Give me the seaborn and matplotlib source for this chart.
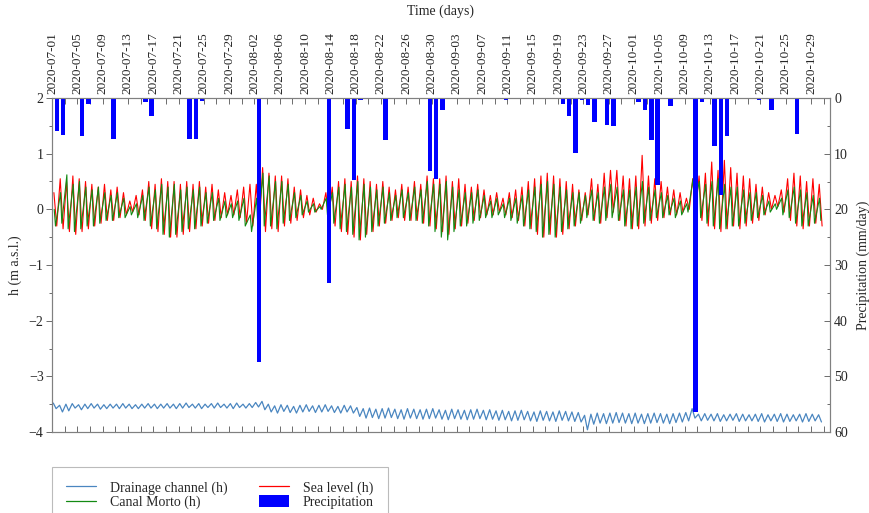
import numpy as np
import pandas as pd
import seaborn as sns
import matplotlib.pyplot as plt
from matplotlib.patches import Patch
from matplotlib.lines import Line2D

start = pd.Timestamp('2020-07-01')
end = pd.Timestamp('2020-11-01')
n_days = 122

# daily high / low of each level series (m a.s.l.)
sea_hi = [0.3, 0.55, 0.5, 0.6, 0.55, 0.5,
          0.45, 0.4, 0.45, 0.35, 0.4, 0.3,
          0.15, 0.25, 0.35,
          0.5, 0.45, 0.55, 0.5, 0.5, 0.45, 0.5,
          0.45, 0.5, 0.4, 0.45, 0.35,
          0.3, 0.25, 0.35, 0.4, 0.45,
          0.45, 0.75, 0.65, 0.6, 0.6, 0.55,
          0.4, 0.35, 0.25, 0.2, 0.1, 0.3,
          0.4, 0.5, 0.55, 0.5, 0.6, 0.55, 0.5,
          0.45, 0.5, 0.4, 0.35, 0.45, 0.4,
          0.5, 0.45, 0.6, 0.55,
          0.55, 0.6, 0.5, 0.55,
          0.45, 0.4, 0.45, 0.35,
          0.25, 0.3, 0.2, 0.3,
          0.35, 0.4, 0.5, 0.55, 0.6, 0.65,
          0.6, 0.55, 0.5, 0.45,
          0.35, 0.3, 0.55, 0.45,
          0.65, 0.7, 0.7, 0.6, 0.55,
          0.6, 0.97, 0.6, 0.55,
          0.5, 0.4, 0.35, 0.3, 0.2,
          0.55, 0.6, 0.65, 0.85, 0.7, 0.88, 0.75,
          0.65, 0.6, 0.55, 0.45, 0.4,
          0.3, 0.25, 0.35,
          0.55, 0.65, 0.6, 0.5, 0.55, 0.45]
sea_lo = [-0.3, -0.35, -0.4, -0.45, -0.4, -0.35,
          -0.3, -0.25, -0.2, -0.2, -0.15, -0.1,
          -0.05, -0.1, -0.2,
          -0.35, -0.4, -0.45, -0.5, -0.5, -0.45, -0.4,
          -0.35, -0.3, -0.25, -0.2, -0.15,
          -0.1, -0.1, -0.15, -0.25, -0.3,
          -0.35, -0.4, -0.35, -0.4, -0.3, -0.25,
          -0.2, -0.15, -0.1, -0.05, 0.0, -0.15,
          -0.3, -0.4, -0.45, -0.5, -0.55, -0.45, -0.4,
          -0.3, -0.25, -0.2, -0.15, -0.2, -0.2,
          -0.2, -0.25, -0.3, -0.35,
          -0.4, -0.45, -0.35, -0.3,
          -0.25, -0.2, -0.15, -0.1,
          -0.1, -0.05, -0.1, -0.15,
          -0.2, -0.3, -0.35, -0.45, -0.5, -0.45,
          -0.5, -0.45, -0.35, -0.3,
          -0.2, -0.1, -0.2, -0.25,
          -0.15, -0.05, -0.2, -0.3, -0.35,
          -0.35, -0.3, -0.25, -0.2,
          -0.15, -0.1, -0.1, -0.05, 0.0,
          -0.05, -0.2, -0.3, -0.35, -0.4, -0.35, -0.3,
          -0.35, -0.3, -0.25, -0.2, -0.1,
          0.0, 0.05, -0.05,
          -0.2, -0.3, -0.35, -0.3, -0.25, -0.3]
canal_hi = [0.0, 0.3, 0.62, 0.45, 0.5, 0.4,
            0.35, 0.4, 0.3, 0.25, 0.3, 0.2,
            0.05, 0.1, 0.25,
            0.4, 0.35, 0.45, 0.4, 0.45, 0.35, 0.4,
            0.35, 0.4, 0.3, 0.3, 0.2,
            0.15, 0.1, 0.15, 0.2, -0.1,
            0.2, 0.65, 0.6, 0.5, 0.5, 0.45,
            0.3, 0.25, 0.15, 0.1, 0.05, 0.2,
            0.3, 0.4, 0.45, 0.4, 0.5, 0.45, 0.4,
            0.35, 0.4, 0.3, 0.25, 0.35, 0.3,
            0.4, 0.35, 0.5, 0.45,
            0.45, 0.5, 0.4, 0.35,
            0.3, 0.3, 0.35, 0.25,
            0.15, 0.2, 0.1, 0.2,
            0.2, 0.25, 0.35, 0.4, 0.45, 0.5,
            0.45, 0.4, 0.35, 0.3,
            0.3, 0.25, 0.35, 0.3,
            0.4, 0.45, 0.4, 0.35, 0.35,
            0.4, 0.5, 0.4, 0.35,
            0.3, 0.25, 0.2, 0.15, 0.1,
            0.55, 0.5, 0.45, 0.5, 0.55, 0.45, 0.4,
            0.4, 0.35, 0.3, 0.3, 0.25,
            0.15, 0.1, 0.2,
            0.35, 0.4, 0.35, 0.3, 0.25, 0.2]
canal_lo = [-0.3, -0.25, -0.35, -0.4, -0.35, -0.3,
            -0.3, -0.25, -0.2, -0.2, -0.15, -0.15,
            -0.1, -0.15, -0.2,
            -0.3, -0.35, -0.45, -0.5, -0.45, -0.4, -0.35,
            -0.35, -0.3, -0.25, -0.2, -0.2,
            -0.15, -0.15, -0.2, -0.3, -0.4,
            -0.35, -0.3, -0.3, -0.35, -0.25, -0.2,
            -0.15, -0.1, -0.05, -0.05, 0.0, -0.1,
            -0.25, -0.35, -0.4, -0.45, -0.55, -0.5, -0.4,
            -0.3, -0.25, -0.2, -0.15, -0.15, -0.2,
            -0.2, -0.25, -0.3, -0.4,
            -0.5, -0.55, -0.4, -0.3,
            -0.3, -0.25, -0.2, -0.15,
            -0.15, -0.1, -0.15, -0.2,
            -0.25, -0.3, -0.35, -0.4, -0.5, -0.45,
            -0.5, -0.4, -0.35, -0.3,
            -0.25, -0.15, -0.2, -0.25,
            -0.2, -0.15, -0.2, -0.3, -0.35,
            -0.3, -0.25, -0.2, -0.15,
            -0.15, -0.1, -0.15, -0.1, -0.05,
            0.1, -0.15, -0.25, -0.3, -0.35, -0.35, -0.3,
            -0.3, -0.25, -0.2, -0.15, -0.1,
            -0.05, 0.0, -0.1,
            -0.15, -0.25, -0.3, -0.3, -0.25, -0.2]
drain_hi = [-3.48, -3.52, -3.50, -3.49, -3.51, -3.50, -3.49, -3.50, -3.51, -3.50, -3.50,
            -3.49, -3.50, -3.51, -3.50, -3.49, -3.50, -3.50, -3.49, -3.50, -3.49, -3.48,
            -3.50, -3.49, -3.50, -3.49, -3.48, -3.50, -3.49, -3.48, -3.50, -3.49, -3.47,
            -3.45, -3.50, -3.53, -3.51, -3.52, -3.54, -3.52, -3.51, -3.53, -3.52, -3.51,
            -3.53, -3.54, -3.52, -3.53,
            -3.56, -3.58, -3.57, -3.59, -3.58, -3.57, -3.59, -3.60, -3.58, -3.59, -3.60,
            -3.59, -3.58, -3.60, -3.61, -3.59, -3.60, -3.61, -3.60, -3.59, -3.61, -3.60,
            -3.62, -3.61, -3.63, -3.62, -3.61, -3.63, -3.64, -3.62, -3.63, -3.64, -3.62,
            -3.63, -3.64, -3.65,
            -3.70,
            -3.68, -3.66, -3.67, -3.66, -3.65, -3.66, -3.67, -3.66, -3.68, -3.67, -3.66,
            -3.67, -3.68, -3.67, -3.66, -3.65,
            -3.58,
            -3.68, -3.67, -3.68, -3.67, -3.69, -3.68, -3.67, -3.68, -3.69, -3.68, -3.67,
            -3.69, -3.68, -3.67, -3.68, -3.69, -3.68, -3.67, -3.68, -3.69]
drain_lo = [-3.58, -3.64, -3.62, -3.57, -3.60, -3.58, -3.57, -3.59, -3.58, -3.57, -3.58,
            -3.57, -3.58, -3.58, -3.57, -3.57, -3.58, -3.57, -3.57, -3.58, -3.57, -3.56,
            -3.57, -3.58, -3.56, -3.57, -3.56, -3.57, -3.58, -3.56, -3.57, -3.56, -3.55,
            -3.60, -3.64, -3.66, -3.63, -3.65, -3.66, -3.64, -3.63, -3.65, -3.64, -3.63,
            -3.65, -3.66, -3.64, -3.66,
            -3.72, -3.75, -3.74, -3.76, -3.75, -3.74, -3.76, -3.77, -3.75, -3.76, -3.77,
            -3.76, -3.75, -3.77, -3.78, -3.76, -3.77, -3.78, -3.77, -3.76, -3.78, -3.77,
            -3.79, -3.78, -3.80, -3.79, -3.78, -3.80, -3.81, -3.79, -3.80, -3.81, -3.79,
            -3.80, -3.81, -3.82,
            -3.96,
            -3.86, -3.84, -3.85, -3.84, -3.83, -3.84, -3.85, -3.84, -3.85, -3.84, -3.83,
            -3.84, -3.85, -3.83, -3.82, -3.80,
            -3.75,
            -3.80, -3.79, -3.80, -3.81, -3.80, -3.79, -3.81, -3.80, -3.80, -3.81, -3.82,
            -3.80, -3.81, -3.82, -3.81, -3.80, -3.82, -3.81, -3.80, -3.82]

# daily precipitation (mm/day), day index from 2020-07-01
precip_day = [0, 1, 4, 5, 9, 14, 15, 21, 22, 23, 32, 43, 46, 47, 48, 52, 59, 60, 61,
              71, 80, 81, 82, 83, 84, 85, 87, 88, 92, 93, 94, 95, 97, 99, 101, 102,
              104, 105, 106, 108, 110, 111, 113, 115, 116, 117, 119, 120, 121]
precip_mm = [6.0, 6.6, 6.8, 1.1, 7.4, 0.8, 3.2, 7.4, 7.4, 0.5, 47.4, 33.2, 5.6, 14.7, 0.4,
             7.5, 13.1, 14.6, 2.2, 0.3, 1.0, 3.2, 9.8, 0.4, 1.3, 4.4, 4.8, 5.1, 0.8, 2.2,
             7.5, 15.6, 1.4, 0.2, 56.4, 0.8, 8.6, 17.4, 6.8, 0.2, 0.2, 0.4, 2.2, 0.2, 0.2,
             6.5, 0.2, 0.2, 0.2]


def zigzag(hi, lo, t_hi, t_lo):
    d = np.arange(n_days)
    t = np.concatenate([d + t_hi, d + t_lo])
    v = np.concatenate([hi, lo])
    o = np.argsort(t)
    return start + pd.to_timedelta(t[o], unit='D'), v[o]


sns.set_theme(style='ticks')
plt.rcParams['font.family'] = ['Liberation Serif', 'DejaVu Serif']
plt.rcParams['axes.edgecolor'] = '#808080'

fig = plt.figure(figsize=(8.7, 5.13), dpi=100)
ax = fig.add_axes([52 / 870, 1 - 432 / 513, 778 / 870, 334 / 513])

c_drain, c_canal, c_sea = '#4a86c0', '#138a13', '#ff0000'
tx, vx = zigzag(drain_hi, drain_lo, 0.2, 0.65)
sns.lineplot(x=tx, y=vx, ax=ax, color=c_drain, lw=0.9)
tx, vx = zigzag(sea_hi, sea_lo, 0.3, 0.75)
sns.lineplot(x=tx, y=vx, ax=ax, color=c_sea, lw=0.8)
tx, vx = zigzag(canal_hi, canal_lo, 0.35, 0.55)
sns.lineplot(x=tx, y=vx, ax=ax, color=c_canal, lw=0.8)

ax.set_xlim(start, end)
ax.set_ylim(-4, 2)
ax.set_yticks(np.arange(-4, 2.1, 1))
ax.set_yticks(np.arange(-3.5, 2, 1), minor=True)
ax.set_yticklabels([str(v).replace('-', '\u2212') for v in range(-4, 3)])
ax.set_xticks(pd.date_range(start, end, freq='4D'))
ax.set_xticks(pd.date_range(start, end, freq='2D'), minor=True)
ax.set_xticklabels([d.strftime('%Y-%m-%d') for d in pd.date_range(start, end, freq='4D')])
ax.tick_params(axis='x', which='both', top=True, bottom=True, labeltop=True,
               labelbottom=False, direction='in', labelrotation=90, labelsize=9.5,
               length=4, width=0.6, color='#555555', pad=3)
ax.tick_params(axis='y', which='both', left=True, right=False, direction='out',
               labelsize=10, length=4, width=0.6, color='#555555', pad=2)
ax.tick_params(axis='y', which='minor', length=2.5)
ax.xaxis.set_label_position('top')
ax.set_xlabel('Time (days)', fontsize=10, labelpad=12)
ax.set_ylabel('h (m a.s.l.)', fontsize=10, labelpad=5)

ax2 = ax.twinx()
bar_x = start + pd.to_timedelta(np.array(precip_day) + 0.75, unit='D')
ax2.bar(bar_x, precip_mm, width=0.7, color='#0000ff', edgecolor='none')
ax2.set_ylim(60, 0)
ax2.set_yticks(np.arange(0, 61, 10))
ax2.set_yticks(np.arange(5, 60, 10), minor=True)
ax2.tick_params(axis='y', which='both', direction='in', labelsize=10, length=4,
                width=0.6, color='#555555', pad=3)
ax2.tick_params(axis='y', which='minor', length=2.5)
ax2.set_ylabel('Precipitation (mm/day)', fontsize=10, labelpad=6)
ax2.set_xlim(start, end)

for a in (ax, ax2):
    for s in a.spines.values():
        s.set_color('#808080')
        s.set_linewidth(0.8)

handles = [Line2D([], [], color=c_drain, lw=0.9),
           Line2D([], [], color=c_canal, lw=0.9),
           Line2D([], [], color=c_sea, lw=0.9),
           Patch(facecolor='#0000ff', edgecolor='none')]
labels = ['Drainage channel (h)', 'Canal Morto (h)', 'Sea level (h)', 'Precipitation']
leg = fig.legend(handles, labels, loc='upper left', bbox_to_anchor=(52 / 870, 1 - 467 / 513),
                 ncol=2, fontsize=10, frameon=True, fancybox=False, edgecolor='#aaaaaa',
                 borderpad=1.0, labelspacing=0.05, handlelength=2.2, handleheight=0.9,
                 handletextpad=1.0, columnspacing=2.2, borderaxespad=0)
leg.get_frame().set_linewidth(0.8)

fig.savefig('out.png', dpi=100)
